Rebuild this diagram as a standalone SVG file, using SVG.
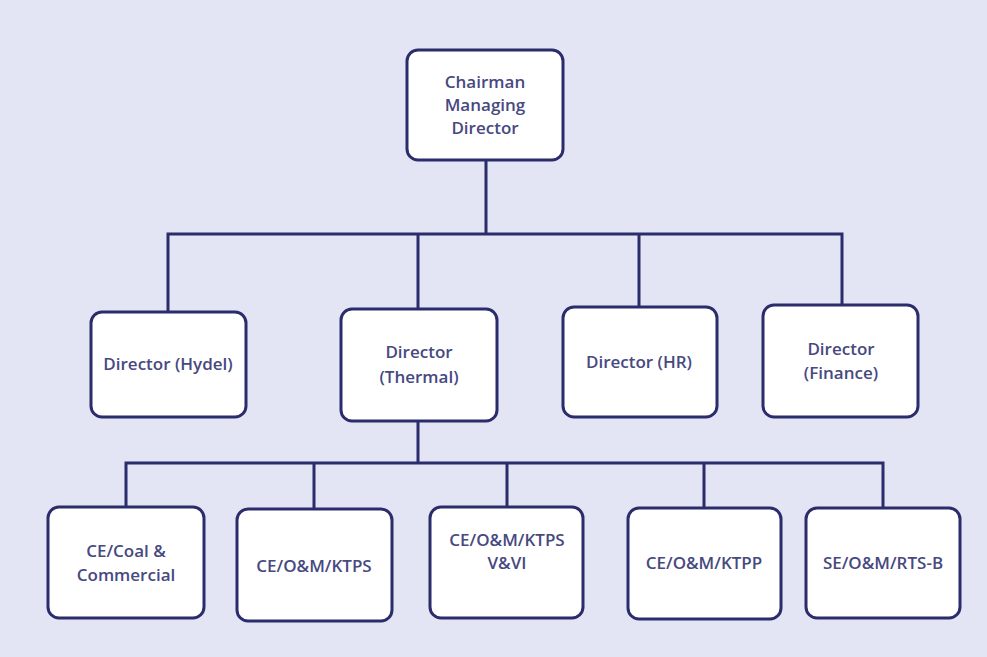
<svg xmlns="http://www.w3.org/2000/svg" width="987" height="657" viewBox="0 0 987 657">
<style>
.box{fill:#ffffff;stroke:#2b2c6c;stroke-width:3}
.ln{fill:none;stroke:#2b2c6c;stroke-width:3}
text{font-family:"Open Sans","Liberation Sans",sans-serif;font-size:17px;font-weight:600;fill:#47497f;text-anchor:middle}
</style>
<rect x="0" y="0" width="987" height="657" fill="#e3e5f5"/>
<g id="connectors">
<path class="ln" d="M486 160V234M168 312V234H842V305M418 234V309M639 234V307"/>
<path class="ln" d="M418 421V463M126 507V463H883V508M314 463V509M507 463V507M704 463V508"/>
</g>
<g id="cmd"><rect class="box" x="407" y="50" width="156" height="110" rx="11"/>
<text x="485" y="88">Chairman</text><text x="485" y="111">Managing</text><text x="485" y="134">Director</text></g>
<g id="hydel"><rect class="box" x="91" y="312" width="155" height="105" rx="11"/>
<text x="168" y="370">Director (Hydel)</text></g>
<g id="thermal"><rect class="box" x="341" y="309" width="156" height="112" rx="11"/>
<text x="419" y="358">Director</text><text x="419" y="383">(Thermal)</text></g>
<g id="hr"><rect class="box" x="563" y="307" width="154" height="110" rx="11"/>
<text x="639" y="368">Director (HR)</text></g>
<g id="finance"><rect class="box" x="763" y="305" width="155" height="112" rx="11"/>
<text x="841" y="355">Director</text><text x="841" y="379">(Finance)</text></g>
<g id="coal"><rect class="box" x="48" y="507" width="156" height="111" rx="11"/>
<text x="126" y="557">CE/Coal &amp;</text><text x="126" y="581">Commercial</text></g>
<g id="ktps"><rect class="box" x="237" y="509" width="155" height="112" rx="11"/>
<text x="314" y="572">CE/O&amp;M/KTPS</text></g>
<g id="ktps56"><rect class="box" x="430" y="507" width="153" height="111" rx="11"/>
<text x="507" y="546">CE/O&amp;M/KTPS</text><text x="507" y="569">V&amp;VI</text></g>
<g id="ktpp"><rect class="box" x="628" y="508" width="153" height="111" rx="11"/>
<text x="704" y="569">CE/O&amp;M/KTPP</text></g>
<g id="rtsb"><rect class="box" x="806" y="508" width="154" height="110" rx="11"/>
<text x="883" y="569">SE/O&amp;M/RTS-B</text></g>
</svg>
